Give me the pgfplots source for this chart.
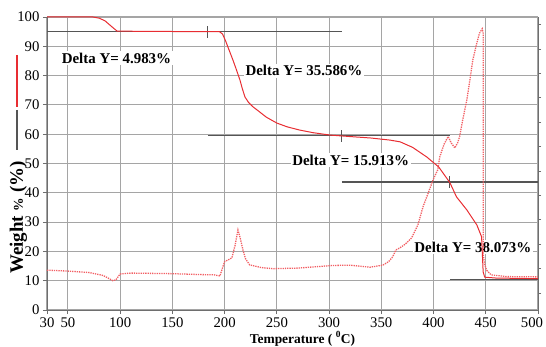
\documentclass[border=0pt]{standalone}
\usepackage{fontspec}
\setmainfont{Liberation Serif}
\usepackage{pgfplots}
\pgfplotsset{compat=1.18}
\definecolor{tga}{RGB}{232,45,50}
\definecolor{dtg}{RGB}{242,95,100}
\definecolor{stepc}{RGB}{85,85,85}
\definecolor{gridc}{RGB}{165,165,165}
\definecolor{axc}{RGB}{110,110,110}
\begin{document}
\begin{tikzpicture}
\begin{axis}[
 set layers,
 scale only axis, width=491bp, height=293bp,
 xmin=30, xmax=500, ymin=0, ymax=100,
 xtick={30,50,100,150,200,250,300,350,400,450,500},
 xticklabels={30,50,100,150,200,250,300,350,400,450,{\kern-12bp 500}},
 ytick={0,10,20,30,40,50,60,70,80,90,100},
 grid=major, grid style={gridc, line width=1.1pt},
 axis x line*=bottom, axis y line*=left,
 axis line style={axc, line width=1pt},
 tick style={axc, line width=0.8pt},
 tick align=outside, major tick length=4bp,
 ticklabel style={font=\fontsize{14.8}{16}\selectfont},
 /pgf/number format/assume math mode=true,
 clip=false,
]
\begin{pgfonlayer}{pre main}
\node[fill=white, inner sep=1.5bp, font=\fontsize{15}{16}\selectfont\bfseries] at (axis cs:96.5,86) {Delta Y= 4.983\%};
\node[fill=white, inner sep=1.5bp, font=\fontsize{15}{16}\selectfont\bfseries] at (axis cs:276,81.6) {Delta Y= 35.586\%};
\node[fill=white, inner sep=1.5bp, font=\fontsize{15}{16}\selectfont\bfseries] at (axis cs:320.7,51.2) {Delta Y= 15.913\%};
\node[fill=white, inner sep=1.5bp, font=\fontsize{15}{16}\selectfont\bfseries] at (axis cs:437.6,21.5) {Delta Y= 38.073\%};
\end{pgfonlayer}
% step lines
\addplot[stepc, line width=1.5pt] coordinates {(30,95.02) (312.3,95.02)};
\addplot[stepc, line width=1pt] coordinates {(184,93) (184,97)};
\addplot[stepc, line width=1.5pt] coordinates {(184,59.5) (415.6,59.5)};
\addplot[stepc, line width=1pt] coordinates {(312,57.5) (312,61.5)};
\addplot[stepc, line width=1.5pt] coordinates {(312.3,43.7) (500,43.7)};
\addplot[stepc, line width=1pt] coordinates {(415.6,41.7) (415.6,45.7)};
\addplot[stepc, line width=1.5pt] coordinates {(415.6,10.4) (500,10.4)};
% DTG dotted
\addplot[dtg, line width=1.3pt, densely dotted] coordinates {
(30,13.6) (49,13.3) (70,12.8) (83.6,11.8) (88,11) (93,10) (96,10.3) (100,12.3) (110,12.6) (150,12.4) (176,12.1) (190,12.0) (195.5,11.6) (200,16.5) (204,17.2) (207,17.8) (210,22) (212.8,27.3) (215,24.5) (217.6,20.5) (220,17.5) (224,15.4) (235,14.5) (246,14.1) (270,14.3) (303.7,15.2) (320,15.3) (339,14.6) (351.5,15.3) (357,16.5) (361,18.2) (364,20.5) (367.8,21.2) (373,22.5) (379,24.6) (385,29) (390,35.3) (395,40) (399.5,44.4) (404,47.8) (406,52.3) (410,56.5) (414,59.2) (417,57) (420.4,55.3) (423,57) (425,59.2) (428,65) (431.9,71.7) (435,79) (437.6,85.3) (441,90.5) (444,94.5) (446.6,96) (447.5,94.5) (447.6,18.8) (449,15.5) (451,13.5) (455,12) (470,11.4) (500,11.3)
};
% TGA solid
\addplot[tga, line width=1pt] coordinates {
(30,100) (74,100) (80,99.6) (85.5,98.7) (91,97) (97,95.2) (120,95.1) (150,95.05) (195,95.0) (198,94.2) (201,91.8) (204,89) (208,85.3) (211.5,81.8) (214.7,78.5) (217,75.5) (219.5,72.7) (223,70.8) (227,69.4) (231,68.3) (240,65.8) (250,63.8) (260,62.5) (272,61.4) (285,60.5) (301,59.7) (320,59.2) (340,58.7) (358,58.0) (368,57.4) (380,55.5) (393.6,52.2) (405,48.8) (415.6,43.5) (422,38.6) (432,34.1) (441.5,29) (446,25) (447.5,13) (449,11.2) (460,10.9) (500,10.7)
};
\end{axis}
\begin{axis}[
 scale only axis, width=491bp, height=293bp,
 xmin=30, xmax=500, ymin=0, ymax=100,
 axis x line=none, axis y line*=right,
 axis line style={axc, line width=1pt},
 tick style={axc, line width=0.8pt},
 ytick={5.8,14.1,22.4,30.8,39.1,47.4,55.8,64.1,72.4,80.8,89.1,97.4},
 yticklabels={}, tick align=outside, major tick length=3bp,
]
\end{axis}
\draw[tga, line width=1.3pt] (-30bp,255bp) -- (-30bp,203bp);
\draw[stepc, line width=1.3pt] (-30bp,200bp) -- (-30bp,160bp);
\node[rotate=90, font=\fontsize{19}{19}\selectfont\bfseries] at (-28.5bp,92.5bp) {Weight {\fontsize{13.5}{14}\selectfont\%} (\%)};
\node[anchor=base, font=\fontsize{13.5}{14}\selectfont\bfseries] at (255.5bp,-33bp) {Temperature ( \textsuperscript{0}C)};
\pgfresetboundingbox
\path[use as bounding box] (-47bp,-37bp) rectangle (499bp,310bp);
\end{tikzpicture}
\end{document}
